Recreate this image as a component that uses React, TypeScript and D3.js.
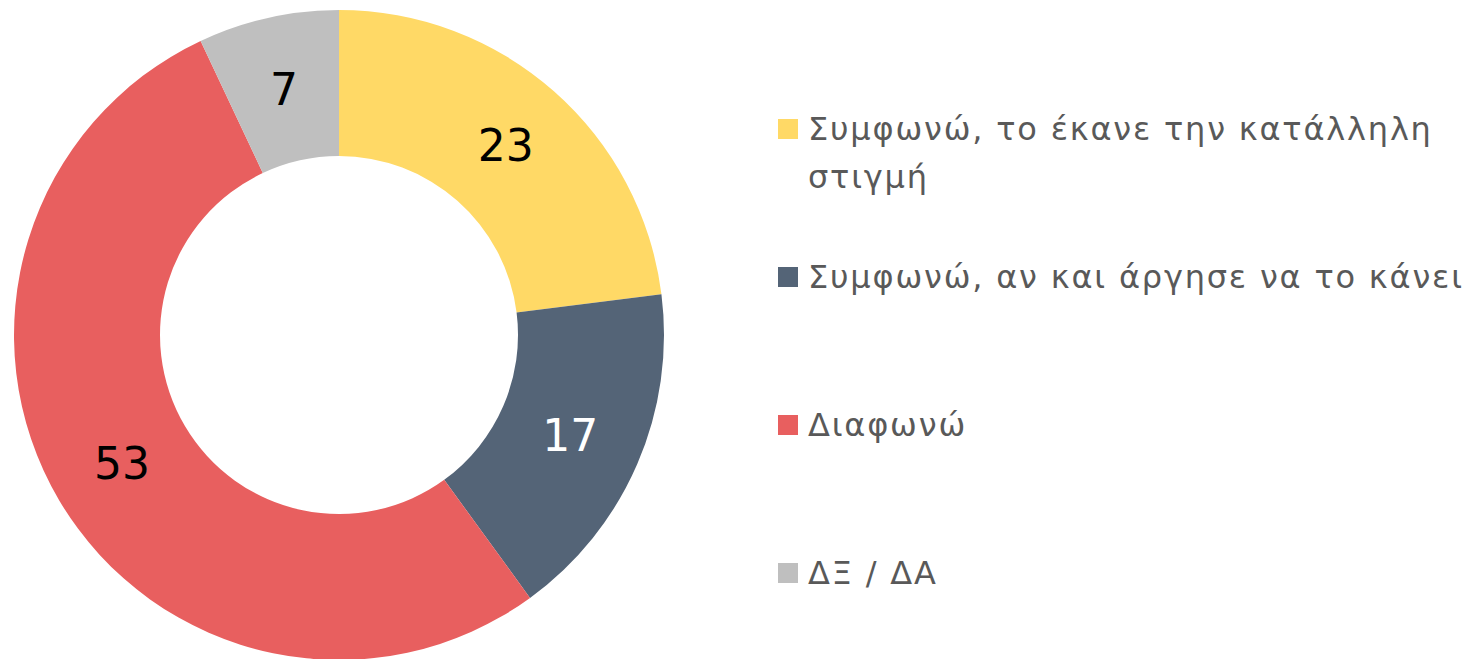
import React from "react";
import * as d3 from "d3";

const categories = [
  "Συμφωνώ, το έκανε την κατάλληλη στιγμή",
  "Συμφωνώ, αν και άργησε να το κάνει",
  "Διαφωνώ",
  "ΔΞ / ΔΑ",
];
const legendLines = [
  ["Συμφωνώ, το έκανε την κατάλληλη", "στιγμή"],
  ["Συμφωνώ, αν και άργησε να το κάνει"],
  ["Διαφωνώ"],
  ["ΔΞ / ΔΑ"],
];
const values = [23, 17, 53, 7];
const colors = ["#FFD966", "#546477", "#E85F5F", "#BFBFBF"];
const labelColors = ["#000000", "#FFFFFF", "#000000", "#000000"];

const W = 1474;
const H = 659;
const cx = 339;
const cy = 335;
const outerR = 325;
const innerR = 179;
const FONT = "'DejaVu Sans', sans-serif";

export default function App() {
  const pie = d3
    .pie<number>()
    .sort(null)
    .value((d) => d)
    .startAngle(0)
    .endAngle(2 * Math.PI);
  const arcs = pie(values);
  const arc = d3.arc<d3.PieArcDatum<number>>().innerRadius(innerR).outerRadius(outerR);

  const legendX = 778;
  const legendY = d3.scalePoint<number>().domain(d3.range(categories.length)).range([129, 573]);

  return (
    <svg
      width={W}
      height={H}
      style={{ position: "absolute", left: 0, top: 0, background: "#fff" }}
    >
      <g transform={`translate(${cx},${cy})`}>
        {arcs.map((a, i) => (
          <path key={i} d={arc(a) || ""} fill={colors[i]} />
        ))}
        {arcs.map((a, i) => {
          const [x, y] = arc.centroid(a);
          return (
            <text
              key={"l" + i}
              x={x}
              y={y}
              textAnchor="middle"
              dominantBaseline="central"
              fontFamily={FONT}
              fontSize={44}
              fill={labelColors[i]}
            >
              {values[i]}
            </text>
          );
        })}
      </g>
      {categories.map((c, i) => {
        const y = legendY(i) as number;
        return (
          <g key={"lg" + i}>
            <rect x={legendX} y={y - 10} width={20} height={20} fill={colors[i]} />
            {legendLines[i].map((ln, j) => (
              <text
                key={j}
                x={808}
                y={y + j * 48}
                dominantBaseline="central"
                fontFamily={FONT}
                fontSize={32}
                letterSpacing={1.8}
                fill="#595959"
              >
                {ln}
              </text>
            ))}
          </g>
        );
      })}
    </svg>
  );
}
